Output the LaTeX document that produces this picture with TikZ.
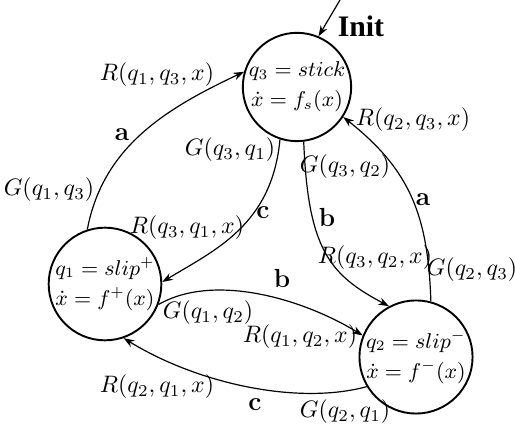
\documentclass[tikz,border=0pt]{standalone}
\usepackage{fontspec}
\newfontfamily\timesfont{Liberation Serif}
\usetikzlibrary{arrows.meta}
\begin{document}
\begin{tikzpicture}[x=0.42pt,y=0.42pt,
  state/.style={circle,draw,line width=0.8pt,minimum size=42.8pt,inner sep=0pt,align=center,font=\small},
  trans/.style={line width=0.5pt,-{Stealth[length=4.5pt,width=3.2pt]}},
  lbl/.style={inner sep=0pt},
  ev/.style={inner sep=0pt,font=\fontsize{11}{13}\selectfont\bfseries}]
\useasboundingbox (0,0) rectangle (515,-430);
% states
\node[state] (q3) at (297,-87) {$q_3 = stick$\\[1.5pt]$\dot{x} = f_s(x)$};
\node[state] (q1) at (105,-284) {$q_1 = slip^{+}$\\[1.5pt]$\dot{x} = f^{+}(x)$};
\node[state] (q2) at (416,-357) {$q_2 = slip^{-}$\\[1.5pt]$\dot{x} = f^{-}(x)$};
% init
\coordinate (istart) at (340,0);
\node[inner sep=0pt] (init) at (361,-26) {\timesfont\fontsize{12.5}{14}\selectfont\bfseries Init};
\draw[trans] (istart) -- (q3.67);
% transitions
\draw[trans] (q1.108) .. controls (103,-147) and (165,-109) .. (q3.164);
\draw[trans] (q3.252) .. controls (272,-225) and (215,-250) .. (q1.2);
\draw[trans] (q3.-83) .. controls (308,-250) and (330,-275) .. (q2.118);
\draw[trans] (q2.75) .. controls (428,-215) and (410,-170) .. (q3.-33);
\draw[trans] (q1.-21) .. controls (215,-272) and (305,-300) .. (q2.158);
\draw[trans] (q2.211) .. controls (300,-405) and (200,-385) .. (q1.-71);
% labels q1 -> q3
\node[lbl] (r13) at (157,-75) {$R(q_1,q_3,x)$};
\node[ev] (e13) at (122,-135) {a};
\node[lbl] (g13) at (49,-190) {$G(q_1,q_3)$};
% q3 -> q1
\node[lbl] (g31) at (230,-150) {$G(q_3,q_1)$};
\node[ev] (e31) at (263,-213) {c};
\node[lbl] (r31) at (187,-228) {$R(q_3,q_1,x)$};
% q3 -> q2
\node[lbl] (g32) at (345,-167) {$G(q_3,q_2)$};
\node[ev] (e32) at (327,-217) {b};
\node[lbl] (r32) at (375,-258) {$R(q_3,q_2,x)$};
% q2 -> q3
\node[lbl] (r23) at (413,-120) {$R(q_2,q_3,x)$};
\node[ev] (e23) at (423,-200) {a};
\node[lbl] (g23) at (472,-270) {$G(q_2,q_3)$};
% q1 -> q2
\node[ev] (e12) at (282,-278) {b};
\node[lbl] (g12) at (208,-313) {$G(q_1,q_2)$};
\node[lbl] (r12) at (300,-337) {$R(q_1,q_2,x)$};
% q2 -> q1
\node[lbl] (r21) at (157,-387) {$R(q_2,q_1,x)$};
\node[ev] (e21) at (255,-405) {c};
\node[lbl] (g21) at (345,-412) {$G(q_2,q_1)$};
\end{tikzpicture}
\end{document}
